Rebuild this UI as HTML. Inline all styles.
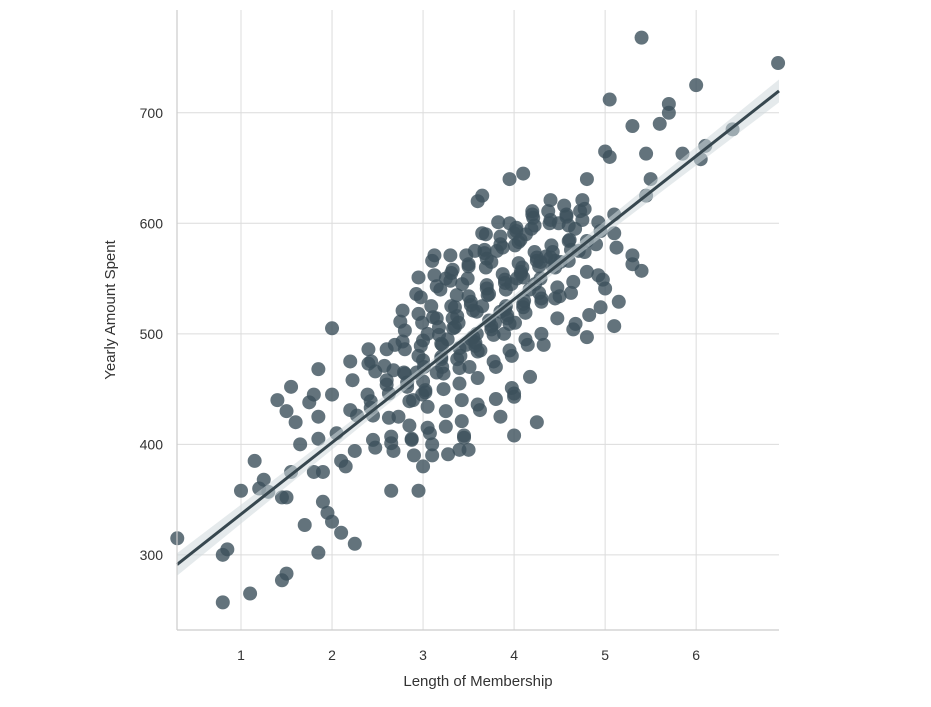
<!DOCTYPE html>
<html><head><meta charset="utf-8"><style>
body{margin:0;background:#fff;}
svg text{font-family:"Liberation Sans",Arial,sans-serif;fill:#333;}
</style></head><body>
<svg id="chart" width="931" height="702" xmlns="http://www.w3.org/2000/svg">
<g id="grid"></g><g id="points"></g><g id="reg"></g><g id="axes"></g>
</svg>
<script>
const xTicks=[1,2,3,4,5,6];
const yTicks=[300,400,500,600,700];
const outX=[0.3,0.8,0.85,0.8,1.0,1.1,1.15,1.2,1.25,1.3,1.4,1.45,1.5,1.5,1.5,1.45,1.55,1.55,1.6,1.65,1.7,1.75,1.8,1.8,1.85,1.85,1.85,1.9,1.9,1.95,2.0,2.05,2.1,2.1,2.15,2.2,2.25,2.0,2.0,1.85,5.4,5.05,5.3,5.45,5.6,5.7,5.7,5.85,6.0,6.05,6.1,6.4,6.9,5.5,5.45,5.3,5.4,5.1,5.0,5.05,4.8,4.1,3.95,3.6,3.65,4.0,4.25,3.85,3.4,3.5,2.95,2.65,2.9,3.0,3.1,3.1];
const outY=[315,300,305,257,358,265,385,360,368,357,440,352,430,352,283,277,452,375,420,400,327,438,445,375,468,425,302,348,375,338,330,410,385,320,380,475,310,505,445,405,768,712,688,663,690,700,708,663,725,658,670,685,745,640,625,563,557,507,665,660,640,645,640,620,625,408,420,425,395,395,358,358,390,380,390,400];
const cloudX=[2.3,2.4,2.5,2.6,2.7,2.8,2.9,3.0,3.1,3.2,3.3,3.4,3.5,3.6,3.7,3.8,3.9,4.0,4.1,4.2,4.3,4.4,4.5,4.6,4.7,4.8,4.9,5.0,5.1,5.2];
const cloudY=[[440,455,400,420],[495,430,410,460],[495,470,445,420,400],[480,455,430,395,470],[530,500,460,440,410,385],[520,490,470,450,420,395],[560,530,500,480,455,430,405],[545,515,495,470,450,425,410],[580,540,505,485,460,440,415],[575,550,520,500,480,455,430,400],[580,555,530,510,490,470,450,425],[570,545,520,500,480,460,440,415],[580,560,535,515,495,475,455,430,405],[585,565,540,520,500,480,460,440],[600,570,550,530,510,490,470,445],[590,575,555,535,515,495,475,450],[610,585,560,540,520,500,480,455],[605,580,560,545,525,505,485,460,440],[600,590,570,550,530,510,490,470],[620,595,575,555,535,515,495],[630,605,580,560,540,520,490],[620,600,580,560,545,525,500],[615,595,575,555,535,505],[625,605,590,570,550,500],[630,610,590,560,540,495],[620,600,580,550,520],[610,590,555,535,500],[590,550,530],[600,575,535],[580,605]];
const denseX=[2.45,2.75,2.95,3.05,3.15,3.25,3.35,3.45,3.55,3.65,3.75,3.85,3.95,4.05,4.15,4.25,4.35,4.45,4.55,4.65];
const denseY=[[445,475],[465,490,425],[480,510,440,465],[470,500,525,445],[490,515,465,540],[495,525,470,550],[505,535,480,555],[510,545,490,470],[520,550,495,575],[525,560,500,485],[535,565,510,590],[540,575,520,500],[545,580,525,600],[550,585,530,510],[560,590,540,605],[565,595,545],[570,600,550],[580,560,600],[585,565],[595,575]];
const regIntercept=272, regSlope=64.8;
const L=177,R=779,T=10,B=630;
const x0=0.297,x1=6.91,y0=232,y1=793;
const sx=v=>L+(v-x0)/(x1-x0)*(R-L);
const sy=v=>B-(v-y0)/(y1-y0)*(B-T);
const NS="http://www.w3.org/2000/svg";
function mk(tag,attrs,parent){const e=document.createElementNS(NS,tag);for(const k in attrs)e.setAttribute(k,attrs[k]);parent.appendChild(e);return e;}
const grid=document.getElementById('grid'),axes=document.getElementById('axes');
xTicks.forEach(t=>{const l=mk('line',{x1:sx(t),x2:sx(t),y1:T,y2:B,stroke:'#dcdcdc','stroke-width':1},grid);

const tx=mk('text',{x:sx(t),y:B+30,'text-anchor':'middle','font-size':14},axes);tx.textContent=t;
});
yTicks.forEach(t=>{const l=mk('line',{x1:L,x2:R,y1:sy(t),y2:sy(t),stroke:'#dcdcdc','stroke-width':1},grid);

const tx=mk('text',{x:L-14,y:sy(t)+5,'text-anchor':'end','font-size':14},axes);tx.textContent=t;
});
const la=mk('line',{x1:L,x2:L,y1:T,y2:B,stroke:'#cccccc','stroke-width':1.2},axes);

const lb=mk('line',{x1:L,x2:R,y1:B,y2:B,stroke:'#cccccc','stroke-width':1.2},axes);

const xt=mk('text',{x:(L+R)/2,y:686,'text-anchor':'middle','font-size':15},axes);xt.textContent='Length of Membership';

const yt=mk('text',{x:0,y:0,'text-anchor':'middle','font-size':15,transform:`translate(115,${(T+B)/2-10}) rotate(-90)`},axes);yt.textContent='Yearly Amount Spent';

const pts=document.getElementById('points');
function dot(x,y){const c=mk('circle',{cx:sx(x),cy:sy(y),r:7,fill:'#3c505b','fill-opacity':0.8},pts);
}
outX.forEach((x,i)=>dot(x,outY[i]));
cloudX.forEach((x,i)=>cloudY[i].forEach((y,j)=>dot(x+((j*37+i*13)%9-4)*0.025,y+((j*11+i*7)%7-3)*3)));
denseX.forEach((x,i)=>denseY[i].forEach((y,j)=>dot(x+((j*23+i*5)%7-3)*0.02,y)));
const f=x=>regIntercept+regSlope*x;
const reg=document.getElementById('reg');
const bw=x=>3+2.2*Math.abs(x-3.55);
const bp=mk('polygon',{points:`${sx(x0)},${sy(f(x0)+bw(x0))} ${sx(3.55)},${sy(f(3.55)+3)} ${sx(x1)},${sy(f(x1)+bw(x1))} ${sx(x1)},${sy(f(x1)-bw(x1))} ${sx(3.55)},${sy(f(3.55)-3)} ${sx(x0)},${sy(f(x0)-bw(x0))}`,fill:'#cfd8dc','fill-opacity':0.55},reg);

const rl=mk('line',{x1:sx(x0),y1:sy(f(x0)),x2:sx(x1),y2:sy(f(x1)),stroke:'#37474f','stroke-width':3},reg);

</script>
</body></html>
